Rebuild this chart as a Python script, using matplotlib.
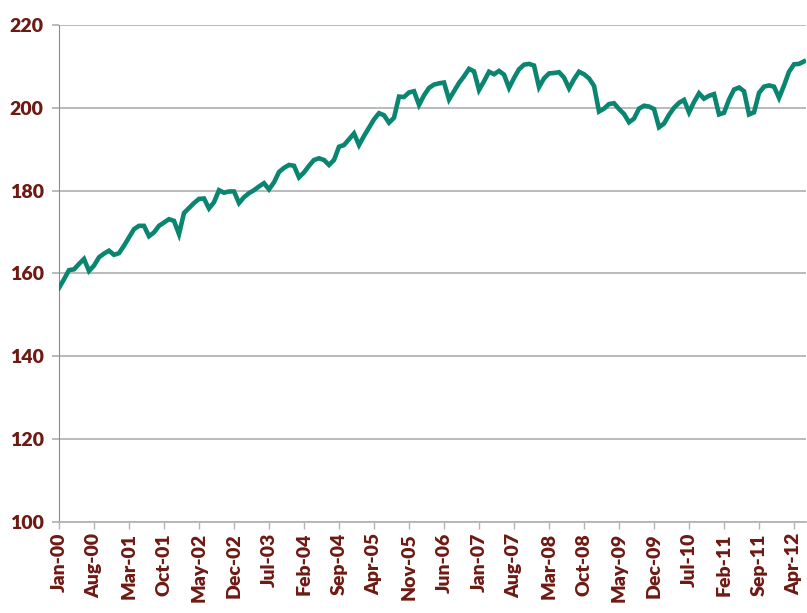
import matplotlib
matplotlib.use("Agg")
import matplotlib.pyplot as plt

# Monthly index values, Jan-2000 .. Jun-2012
values = [
    156.5, 158.6, 160.8, 161.0, 162.3, 163.5, 160.6, 161.9, 163.9, 164.8, 165.5, 164.5,
    164.9, 166.7, 168.7, 170.7, 171.5, 171.5, 169.0, 169.9, 171.5, 172.3, 173.1, 172.7,
    169.5, 174.6, 175.8, 177.0, 178.0, 178.1, 175.7, 177.2, 180.1, 179.5, 179.8, 179.8,
    177.0, 178.4, 179.4, 180.1, 181.0, 181.8, 180.3, 182.0, 184.5, 185.5, 186.2, 186.0,
    183.2, 184.4, 186.0, 187.4, 187.8, 187.4, 186.2, 187.4, 190.6, 191.0, 192.4, 193.8,
    191.0, 193.2, 195.2, 197.2, 198.7, 198.2, 196.4, 197.6, 202.7, 202.6, 203.7, 204.0,
    200.7, 203.0, 204.8, 205.6, 205.9, 206.1, 202.0, 204.0, 206.0, 207.6, 209.4, 208.8,
    204.3, 206.4, 208.7, 208.1, 208.9, 208.0, 204.8, 207.2, 209.3, 210.4, 210.6, 210.2,
    205.0, 207.1, 208.3, 208.4, 208.6, 207.3, 204.7, 206.9, 208.7, 208.1, 207.1, 205.3,
    199.1, 199.8, 200.9, 201.1, 199.7, 198.5, 196.5, 197.4, 199.8, 200.5, 200.3, 199.7,
    195.3, 196.2, 198.3, 200.0, 201.2, 201.9, 198.9, 201.4, 203.5, 202.2, 202.9, 203.3,
    198.4, 198.8, 202.0, 204.4, 204.9, 204.0, 198.4, 198.9, 203.6, 205.1, 205.4, 205.1,
    202.4, 205.4, 208.7, 210.5, 210.6, 211.2,
]
months = list(range(len(values)))

tick_labels = ["Jan-00", "Aug-00", "Mar-01", "Oct-01", "May-02", "Dec-02", "Jul-03",
               "Feb-04", "Sep-04", "Apr-05", "Nov-05", "Jun-06", "Jan-07", "Aug-07",
               "Mar-08", "Oct-08", "May-09", "Dec-09", "Jul-10", "Feb-11", "Sep-11",
               "Apr-12"]
tick_pos = [7 * i for i in range(len(tick_labels))]
y_ticks = [100, 120, 140, 160, 180, 200, 220]

label_color = "#6d1a13"
line_color = "#0a8570"

fig = plt.figure(figsize=(8.07, 6.13), dpi=100)
ax = fig.add_axes([0.0731, 0.1485, 0.9257, 0.8108])

ax.plot(months, values, color=line_color, linewidth=3.3, solid_joinstyle="miter",
        zorder=3)

ax.set_xlim(0, 149.4)
ax.set_ylim(100, 220)
ax.set_yticks(y_ticks)
ax.set_xticks(tick_pos)
ax.set_xticklabels(tick_labels, rotation=90)

ax.yaxis.grid(True, color="#b4b4b4", linewidth=1.3)
ax.set_axisbelow(True)

for side in ["top", "right"]:
    ax.spines[side].set_visible(False)
ax.spines["left"].set_color("#8c8c8c")
ax.spines["bottom"].set_color("#b4b4b4")
ax.spines["bottom"].set_linewidth(1.3)

ax.tick_params(axis="x", length=5, width=1.0, color="#b4b4b4", pad=3)
ax.tick_params(axis="y", length=5, width=1.3, color="#b4b4b4", pad=6)

for lab in ax.get_xticklabels() + ax.get_yticklabels():
    lab.set_fontfamily("Lato")
    lab.set_fontweight("heavy")
    lab.set_fontsize(14)
    lab.set_color(label_color)

fig.savefig("out.png", dpi=100)
